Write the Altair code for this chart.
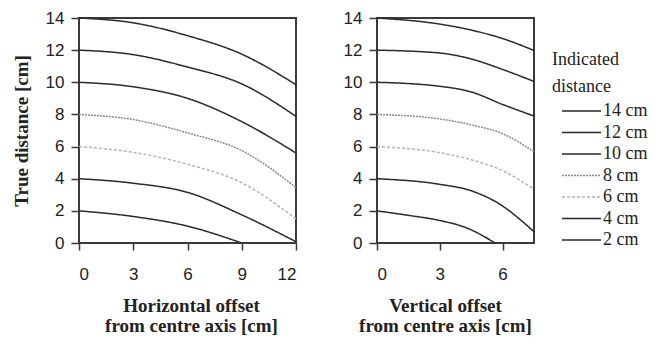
import altair as alt
import pandas as pd

labels = ["14 cm", "12 cm", "10 cm", "8 cm", "6 cm", "4 cm", "2 cm"]
line_colors = ["#2a2a2a", "#2a2a2a", "#2a2a2a", "#8c8c8c", "#b4b4b4", "#2a2a2a", "#2a2a2a"]
line_dashes = [[1, 0], [1, 0], [1, 0], [2, 1], [3, 2], [1, 0], [1, 0]]

# Horizontal offset panel
h_x = {
    "14 cm": [0, 3, 6, 9, 12],
    "12 cm": [0, 3, 6, 9, 12],
    "10 cm": [0, 3, 6, 9, 12],
    "8 cm": [0, 3, 6, 9, 12],
    "6 cm": [0, 3, 6, 9, 12],
    "4 cm": [0, 3, 6, 9, 12],
    "2 cm": [0, 3, 6, 9],
}
h_y = {
    "14 cm": [14, 13.7, 12.9, 11.75, 9.85],
    "12 cm": [12, 11.72, 10.95, 9.9, 7.88],
    "10 cm": [10, 9.72, 9.0, 7.55, 5.6],
    "8 cm": [8, 7.68, 6.85, 5.75, 3.45],
    "6 cm": [6, 5.64, 4.9, 3.75, 1.5],
    "4 cm": [4, 3.72, 3.15, 1.75, 0.08],
    "2 cm": [2, 1.65, 1.05, 0],
}

# Vertical offset panel
v_x = {
    "14 cm": [0, 3, 4.5, 6, 7.5],
    "12 cm": [0, 3, 4.5, 6, 7.5],
    "10 cm": [0, 3, 4.5, 6, 7.5],
    "8 cm": [0, 3, 4.5, 6, 7.5],
    "6 cm": [0, 3, 4.5, 6, 7.5],
    "4 cm": [0, 3, 4.5, 6, 6.8, 7.5],
    "2 cm": [0, 1.5, 3, 4.3, 5.65],
}
v_y = {
    "14 cm": [14, 13.62, 13.25, 12.72, 11.98],
    "12 cm": [12, 11.82, 11.45, 10.8, 10.05],
    "10 cm": [10, 9.75, 9.4, 8.62, 7.9],
    "8 cm": [8, 7.72, 7.35, 6.8, 5.68],
    "6 cm": [6, 5.62, 5.18, 4.5, 3.35],
    "4 cm": [4, 3.65, 3.25, 2.3, 1.5, 0.7],
    "2 cm": [2, 1.72, 1.4, 0.93, 0],
}

y_ticks = [0, 2, 4, 6, 8, 10, 12, 14]
h_ticks = [0, 3, 6, 9, 12]
v_ticks = [0, 3, 6]
legend_title = ["Indicated", "distance"]
y_title = "True distance [cm]"
h_title = ["Horizontal offset", "from centre axis [cm]"]
v_title = ["Vertical offset", "from centre axis [cm]"]


def frame(xs, ys):
    rows = []
    for lab in labels:
        for i, (a, b) in enumerate(zip(xs[lab], ys[lab])):
            rows.append({"label": lab, "x": a, "y": b, "order": i})
    return pd.DataFrame(rows)


SANS = "Liberation Sans"
SERIF = "Liberation Serif"
FRAME = "#3a3a3a"

color = alt.Color("label:N", scale=alt.Scale(domain=labels, range=line_colors), legend=None)
dash = alt.StrokeDash("label:N", scale=alt.Scale(domain=labels, range=line_dashes), legend=None)


def panel(df, xmax, xticks, xtitle, width, with_ytitle, title_x):
    xs = alt.Scale(domain=[0, xmax], nice=False)
    ys = alt.Scale(domain=[0, 14], nice=False)
    yaxis_kw = dict(
        values=y_ticks, grid=False, domain=False, tickSize=8, tickWidth=1.5,
        tickColor=FRAME, labelFont=SANS, labelFontSize=17, labelColor="#222",
        labelPadding=7,
    )
    if with_ytitle:
        yaxis_kw.update(title=y_title, titleFont=SERIF, titleFontSize=19,
                        titleFontWeight="bold", titleColor="#222", titlePadding=14)
        y = alt.Y("y:Q", scale=ys, axis=alt.Axis(**yaxis_kw))
    else:
        y = alt.Y("y:Q", scale=ys, axis=alt.Axis(**yaxis_kw), title=None)
    x = alt.X(
        "x:Q",
        scale=xs,
        axis=alt.Axis(
            values=xticks, grid=False, domain=False, tickSize=7, tickWidth=1.5,
            tickColor=FRAME, labelFont=SANS, labelFontSize=17, labelColor="#222",
            labelPadding=16, title=xtitle, titleFont=SERIF, titleFontSize=19,
            titleFontWeight="bold", titleColor="#222", titlePadding=14,
            titleLineHeight=20, titleX=title_x,
        ),
    )
    return (
        alt.Chart(df)
        .mark_line(interpolate="monotone", strokeWidth=1.5)
        .encode(x=x, y=y, color=color, strokeDash=dash, detail="label:N", order="order:Q")
        .properties(width=width, height=225)
    )


left = panel(frame(h_x, h_y), 12, h_ticks, h_title, 217, True, 112)
right = panel(frame(v_x, v_y), 7.5, v_ticks, v_title, 157, False, 68)

leg_df = pd.DataFrame({"label": labels})
title_df = pd.DataFrame({"t": legend_title})
ly = alt.Y("label:N", scale=alt.Scale(type="point", domain=labels, range=[93, 222], padding=0), axis=None)
ty = alt.Y("t:N", scale=alt.Scale(type="point", domain=legend_title, range=[42, 69], padding=0), axis=None)

leg_rules = alt.Chart(leg_df).mark_rule(strokeWidth=1.5).encode(
    y=ly, x=alt.value(0), x2=alt.value(39), color=color, strokeDash=dash
)
leg_text = alt.Chart(leg_df).mark_text(
    align="left", baseline="middle", font=SERIF, fontSize=18, color="#222"
).encode(y=ly, x=alt.value(41), text="label:N")
leg_title = alt.Chart(title_df).mark_text(
    align="left", baseline="middle", font=SERIF, fontSize=18, color="#222"
).encode(y=ty, x=alt.value(-10), text="t:N")

legend = (
    alt.layer(leg_rules, leg_text, leg_title)
    .resolve_scale(y="independent")
    .properties(width=86, height=225, view=alt.ViewBackground(strokeOpacity=0))
)

inner = alt.hconcat(right, legend, spacing=14)
chart = (
    alt.hconcat(left, inner, spacing=42)
    .properties(padding={"left": 3, "top": 0, "right": 0, "bottom": 0}, background="white")
    .configure_view(stroke=FRAME, strokeWidth=2)
)

chart.save("out.html", embed_options={"renderer": "svg", "actions": False})
